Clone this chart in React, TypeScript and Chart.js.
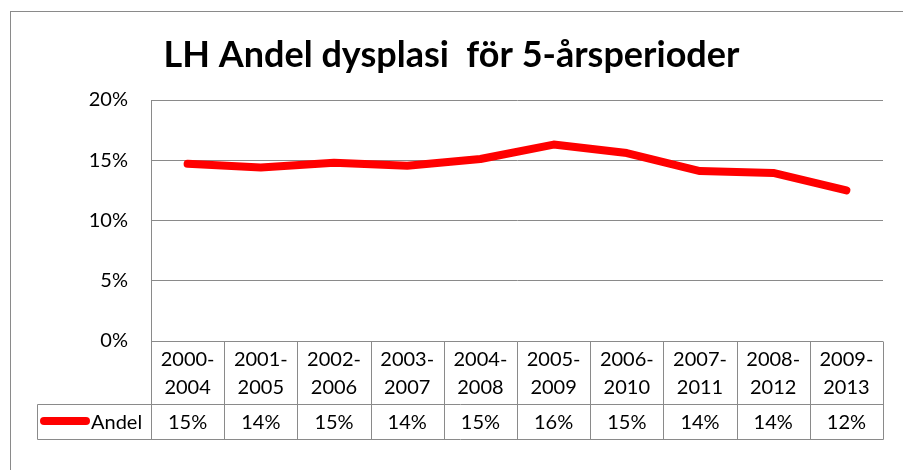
import React, { useEffect, useRef } from "react";
import { Chart, registerables } from "chart.js";

Chart.register(...registerables);

const TITLE = "LH Andel dysplasi  för 5-årsperioder";
const SERIES_NAME = "Andel";
const PERIOD_START = ["2000-", "2001-", "2002-", "2003-", "2004-", "2005-", "2006-", "2007-", "2008-", "2009-"];
const PERIOD_END = ["2004", "2005", "2006", "2007", "2008", "2009", "2010", "2011", "2012", "2013"];
const ANDEL = [0.147, 0.144, 0.148, 0.1455, 0.151, 0.163, 0.156, 0.141, 0.1395, 0.125];
const TABLE_LABELS = ["15%", "14%", "15%", "14%", "15%", "16%", "15%", "14%", "14%", "12%"];
const Y_TICKS = [0, 0.05, 0.1, 0.15, 0.2];

const FONT = "Lato";
const GRID = "#8a8a8a";
const RED = "#ff0000";

const tablePlugin = {
  id: "excelTable",
  afterDraw(chart: any) {
    const ctx = chart.ctx as CanvasRenderingContext2D;
    const area = chart.chartArea;
    const xs = chart.scales.x;
    const n = PERIOD_START.length;
    const step = (area.right - area.left) / n;
    const top = area.bottom;
    const mid = top + 63;
    const bottom = top + 98;
    const legendLeft = 37;
    const px = (v: number) => Math.round(v) + 0.5;

    ctx.save();
    // outer chart border
    ctx.strokeStyle = GRID;
    ctx.lineWidth = 1;
    ctx.strokeRect(10.5, 11.5, 1000, 1000);

    // title
    ctx.fillStyle = "#000";
    ctx.font = `bold 36px ${FONT}`;
    ctx.textAlign = "center";
    ctx.textBaseline = "alphabetic";
    ctx.fillText(TITLE, 451.5, 67);

    // table grid
    ctx.strokeStyle = GRID;
    ctx.lineWidth = 1;
    ctx.beginPath();
    for (let i = 0; i <= n; i++) {
      const x = px(area.left + i * step);
      ctx.moveTo(x, px(top));
      ctx.lineTo(x, px(bottom));
    }
    ctx.moveTo(legendLeft + 0.5, px(mid));
    ctx.lineTo(px(area.right), px(mid));
    ctx.moveTo(legendLeft + 0.5, px(bottom));
    ctx.lineTo(px(area.right), px(bottom));
    ctx.moveTo(legendLeft + 0.5, px(mid));
    ctx.lineTo(legendLeft + 0.5, px(bottom));
    ctx.stroke();

    // header and values
    ctx.fillStyle = "#000";
    ctx.font = `20px ${FONT}`;
    ctx.textAlign = "center";
    ctx.textBaseline = "alphabetic";
    for (let i = 0; i < n; i++) {
      const cx = xs.getPixelForValue(i);
      ctx.fillText(PERIOD_START[i], cx, top + 25);
      ctx.fillText(PERIOD_END[i], cx, top + 53);
      ctx.fillText(TABLE_LABELS[i], cx, top + 88);
    }

    // legend key
    const ly = top + 80;
    ctx.strokeStyle = RED;
    ctx.lineWidth = 8;
    ctx.lineCap = "round";
    ctx.beginPath();
    ctx.moveTo(44, ly);
    ctx.lineTo(86, ly);
    ctx.stroke();
    ctx.textAlign = "left";
    ctx.fillText(SERIES_NAME, 91, top + 88);
    ctx.restore();
  },
};

export default function App() {
  const ref = useRef<HTMLCanvasElement | null>(null);
  useEffect(() => {
    document.body.style.margin = "0";
    const canvas = ref.current!;
    const chart = new Chart(canvas, {
      type: "line",
      data: {
        labels: PERIOD_START.map((s, i) => s + PERIOD_END[i]),
        datasets: [
          {
            label: SERIES_NAME,
            data: ANDEL,
            borderColor: RED,
            backgroundColor: RED,
            borderWidth: 8,
            pointRadius: 0,
            borderCapStyle: "round",
            borderJoinStyle: "round",
            tension: 0,
          },
        ],
      },
      options: {
        responsive: false,
        animation: false,
        devicePixelRatio: 1,
        layout: { padding: { left: 10, right: 20, top: 100, bottom: 129 } },
        plugins: {
          legend: { display: false },
          title: { display: false },
          tooltip: { enabled: false },
        },
        scales: {
          x: {
            type: "category",
            display: false,
            offset: true,
          },
          y: {
            min: 0,
            max: 0.2,
            afterBuildTicks: (scale: any) => {
              scale.ticks = Y_TICKS.map((v) => ({ value: v }));
            },
            afterFit: (scale: any) => {
              scale.width = 141;
            },
            border: { display: true, color: GRID, width: 1 },
            grid: { color: GRID, lineWidth: 1, drawTicks: false },
            ticks: {
              padding: 23,
              color: "#000",
              font: { family: FONT, size: 20 },
              callback: (v: any) => `${Math.round(Number(v) * 100)}%`,
            },
          },
        },
      },
      plugins: [tablePlugin],
    } as any);
    return () => chart.destroy();
  }, []);
  return (
    <div style={{ width: 903, height: 470, background: "#fff" }}>
      <canvas ref={ref} width={903} height={470} style={{ display: "block" }} />
    </div>
  );
}
